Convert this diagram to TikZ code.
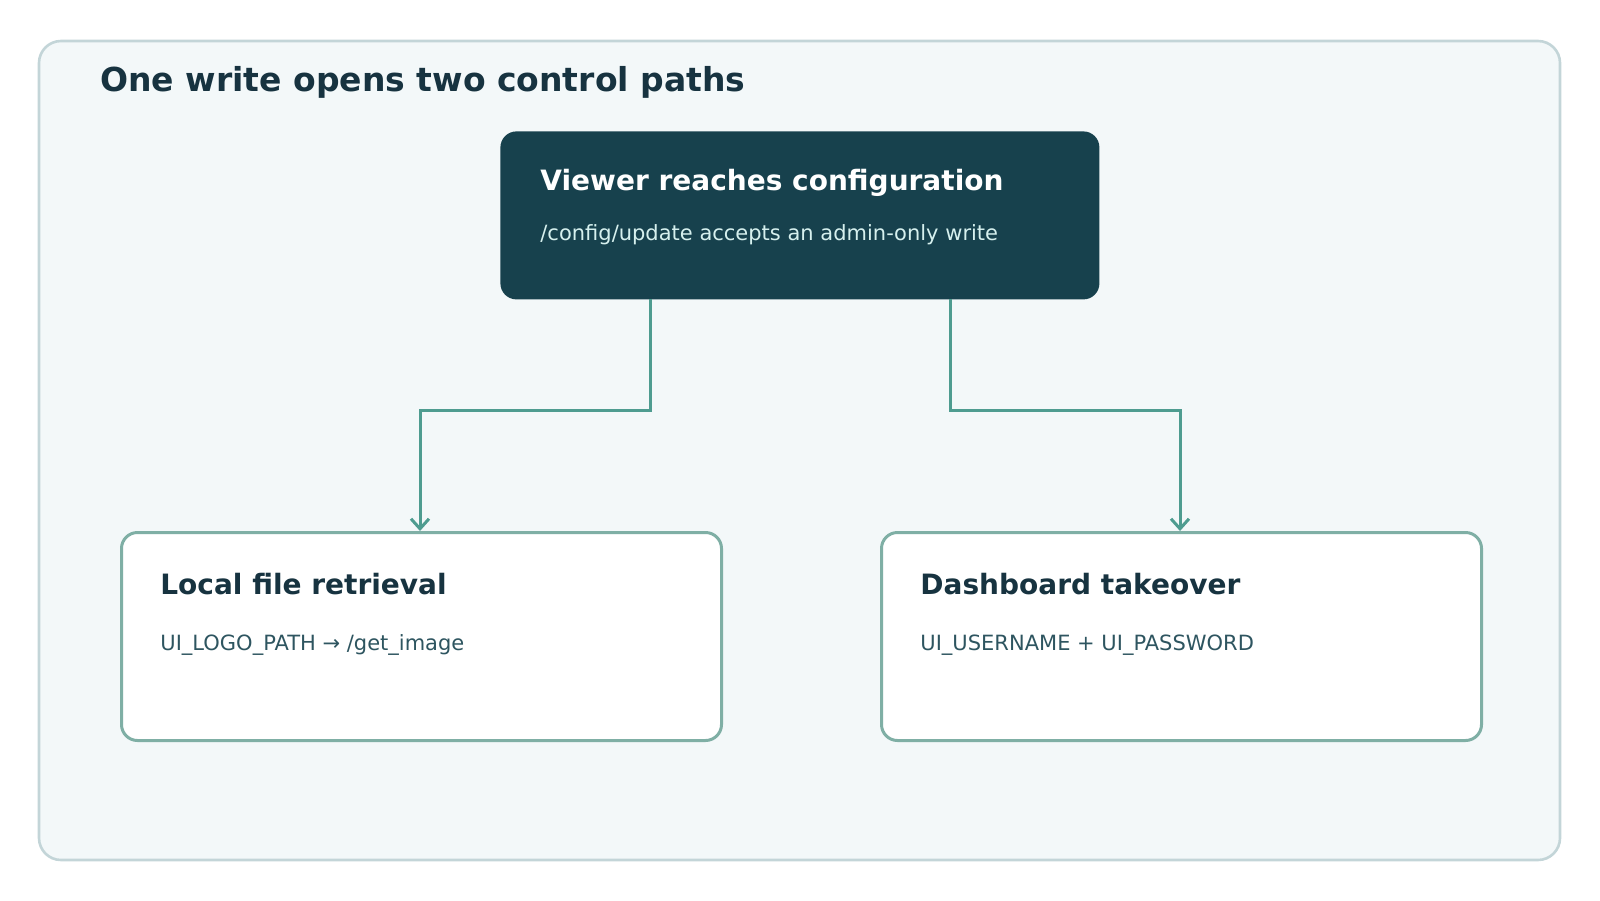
\documentclass[tikz,border=0pt]{standalone}
\usepackage{fontspec}
\setmainfont{DejaVu Sans}
\usetikzlibrary{arrows.meta}
\definecolor{frameF}{HTML}{F3F8F9}
\definecolor{frameD}{HTML}{C3D5D8}
\definecolor{dark}{HTML}{17414D}
\definecolor{ink}{HTML}{173340}
\definecolor{teal}{HTML}{4E9C90}
\definecolor{boxD}{HTML}{7FAFA5}
\definecolor{light}{HTML}{D6F0EE}
\definecolor{sub}{HTML}{2E5560}
\begin{document}
\begin{tikzpicture}[x=0.5pt,y=-0.5pt,
  box/.style={draw=boxD,line width=1.5pt,fill=white,rounded corners=8pt},
  ttl/.style={anchor=base west,font=\fontsize{14}{16}\selectfont\bfseries,text=ink,inner sep=0},
  sb/.style={anchor=base west,font=\fontsize{10.5}{12}\selectfont,text=sub,inner sep=0},
  conn/.style={draw=teal,line width=1.5pt,-{Straight Barb[length=5pt,width=9pt]}}]
\useasboundingbox (0,0) rectangle (1600,900);
\draw[fill=frameF,draw=frameD,line width=1.3pt,rounded corners=11pt] (39,41) rectangle (1560,860);
\node[anchor=base west,inner sep=0,font=\fontsize{16.5}{18}\selectfont\bfseries,text=ink] (title) at (100,91) {One write opens two control paths};
\node[fill=dark,rounded corners=8pt,minimum width=599*0.5pt,minimum height=168*0.5pt,anchor=north west,inner sep=0] (top) at (500,131) {};
\node[ttl,text=white] (tt) at (540,190) {Viewer reaches configuration};
\node[sb,text=light] (ts) at (540,240) {/config/update accepts an admin-only write};
\node[box,minimum width=600*0.5pt,minimum height=208*0.5pt,anchor=north west,inner sep=0] (L) at (120,531) {};
\node[ttl] (lt) at (160,594) {Local file retrieval};
\node[sb] (ls) at (160,650) {UI\_LOGO\_PATH → /get\_image};
\node[box,minimum width=600*0.5pt,minimum height=208*0.5pt,anchor=north west,inner sep=0] (R) at (880,531) {};
\node[ttl] (rt) at (920,594) {Dashboard takeover};
\node[sb] (rs) at (920,650) {UI\_USERNAME + UI\_PASSWORD};
\coordinate (a1) at (650,299); \coordinate (a2) at (650,410); \coordinate (a3) at (420,410);
\coordinate (b1) at (950,299); \coordinate (b2) at (950,410); \coordinate (b3) at (1180,410);
\draw[conn] (a1) -- (a2) -- (a3) -- (L.north -| a3);
\draw[conn] (b1) -- (b2) -- (b3) -- (R.north -| b3);
\end{tikzpicture}
\end{document}
